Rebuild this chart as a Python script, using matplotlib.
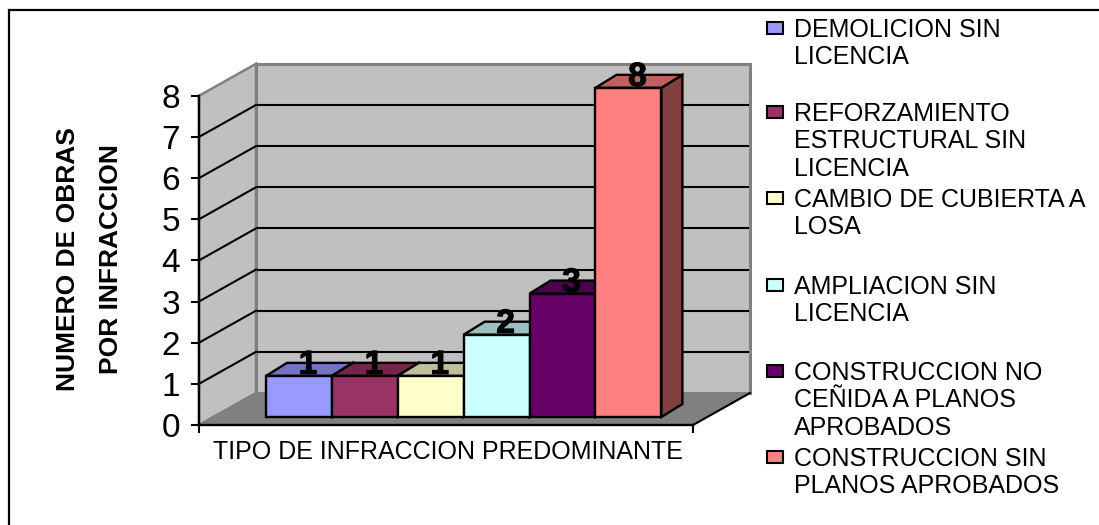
import matplotlib
matplotlib.use('Agg')
import matplotlib.pyplot as plt
import matplotlib.patheffects as pe
from matplotlib.patches import Polygon, Rectangle

plt.rcParams['font.family'] = ['Liberation Sans', 'DejaVu Sans']

# datos
categorias = ['DEMOLICION SIN\nLICENCIA',
              'REFORZAMIENTO\nESTRUCTURAL SIN\nLICENCIA',
              'CAMBIO DE CUBIERTA A\nLOSA',
              'AMPLIACION SIN\nLICENCIA',
              'CONSTRUCCION NO\nCEÑIDA A PLANOS\nAPROBADOS',
              'CONSTRUCCION SIN\nPLANOS APROBADOS']
valores = [1, 1, 1, 2, 3, 8]
colores = ['#9999FF', '#993366', '#FFFFCC', '#CCFFFF', '#660066', '#FF8080']
ticks_y = [0, 1, 2, 3, 4, 5, 6, 7, 8]

W, H = 1099, 525
fig = plt.figure(figsize=(W / 100, H / 100), dpi=100)

# escala: x en anchos de barra, y en numero de obras
X0, Y0 = 199, 425
SX, SY = 65.9, 41.15
ax = fig.add_axes([0, 0, 1, 1])
ax.set_xlim(-X0 / SX, (W - X0) / SX)
ax.set_ylim((Y0 - H) / SY, Y0 / SY)
ax.axis('off')

LARGO = 494 / SX
TOPE = 8
DX, DY = 57 / SX, 32 / SY       # profundidad de la caja
BX, BY = 21 / SX, 13 / SY       # profundidad de cada barra
OX, OY = 67 / SX, 8 / SY        # inicio de las barras
NEGRO = '#000000'
GRIS = '#808080'


def oscurecer(color, f):
    rgb = matplotlib.colors.to_rgb(color)
    return tuple(c * f for c in rgb)


# marco exterior
ax.add_patch(Rectangle((-190 / SX, -140 / SY), 1200 / SX, 555 / SY,
                       fc='white', ec=NEGRO, lw=1.6, zorder=0))

# paredes y piso
ax.add_patch(Polygon([(0, 0), (DX, DY), (DX, TOPE + DY), (0, TOPE)],
                     fc='#C0C0C0', ec=GRIS, lw=1.8, zorder=1))
ax.add_patch(Polygon([(DX, DY), (DX + LARGO, DY), (DX + LARGO, TOPE + DY), (DX, TOPE + DY)],
                     fc='#C0C0C0', ec=GRIS, lw=2.2, zorder=1))
ax.add_patch(Polygon([(0, 0), (DX, DY), (DX + LARGO, DY), (LARGO, 0)],
                     fc=GRIS, ec=GRIS, lw=1, zorder=2))

# lineas de division
for t in ticks_y[1:-1]:
    ax.plot([0, DX], [t, t + DY], color=NEGRO, lw=1.5, zorder=3)
    ax.plot([DX + 0.03, DX + LARGO - 0.03], [t + DY, t + DY], color=NEGRO, lw=1.5, zorder=3)

# ejes
ax.plot([0, 0], [0, TOPE], color=NEGRO, lw=1.7, zorder=4)
ax.plot([0, LARGO], [0, 0], color=NEGRO, lw=1.7, zorder=4)
ax.plot([LARGO, LARGO + DX], [0, DY], color=NEGRO, lw=1.5, zorder=4)
for t in ticks_y:
    ax.plot([-7 / SX, 0], [t, t], color=NEGRO, lw=1.5, zorder=4)
    ax.text(-28 / SX, t, str(t), ha='center', va='center_baseline', fontsize=24, color=NEGRO)
for x in (0, LARGO):
    ax.plot([x, x], [0, -7 / SY], color=NEGRO, lw=1.5, zorder=4)

# barras
for i, (v, c) in enumerate(zip(valores, colores)):
    x0, x1 = OX + i, OX + i + 1
    y0, y1 = OY, OY + v
    z = 5 + i
    ax.add_patch(Polygon([(x1, y0), (x1 + BX, y0 + BY), (x1 + BX, y1 + BY), (x1, y1)],
                         fc=oscurecer(c, 0.5), ec=NEGRO, lw=1.7, zorder=z))
    ax.add_patch(Polygon([(x0, y1), (x0 + BX, y1 + BY), (x1 + BX, y1 + BY), (x1, y1)],
                         fc=oscurecer(c, 0.75), ec=NEGRO, lw=1.7, zorder=z))
    ax.add_patch(Rectangle((x0, y0), 1, v, fc=c, ec=NEGRO, lw=1.7, zorder=z))

# etiquetas de valor
for i, v in enumerate(valores):
    ax.text(OX + i + 0.5 + 9 / SX, OY + v + 14 / SY, str(v), ha='center', va='center_baseline',
            fontsize=24, fontweight='bold', color=NEGRO, zorder=20,
            path_effects=[pe.withStroke(linewidth=0.8, foreground=NEGRO)])

# titulos de los ejes
ax.text((LARGO / 2) + 2 / SX, -27 / SY, 'TIPO DE INFRACCION PREDOMINANTE', ha='center', va='center',
        fontsize=18, color=NEGRO)
ax.text(-109 / SX, 166 / SY, 'NUMERO DE OBRAS\nPOR INFRACCION', rotation=90, ha='center', va='center',
        multialignment='center', fontsize=19, fontweight='bold', color=NEGRO, linespacing=2.0)

# leyenda
filas_y = [28, 112, 198, 285, 371, 457]
for nombre, c, fila in zip(categorias, colores, filas_y):
    y = (Y0 - fila) / SY
    ax.add_patch(Rectangle(((767 - X0) / SX, y - 6 / SY), 16 / SX, 12 / SY,
                           fc=c, ec=NEGRO, lw=1.5, zorder=5))
    ax.text((794 - X0) / SX, y + 10 / SY, nombre, ha='left', va='top', fontsize=18,
            color=NEGRO, linespacing=1.18, zorder=5)

fig.savefig('out.png', dpi=100)
